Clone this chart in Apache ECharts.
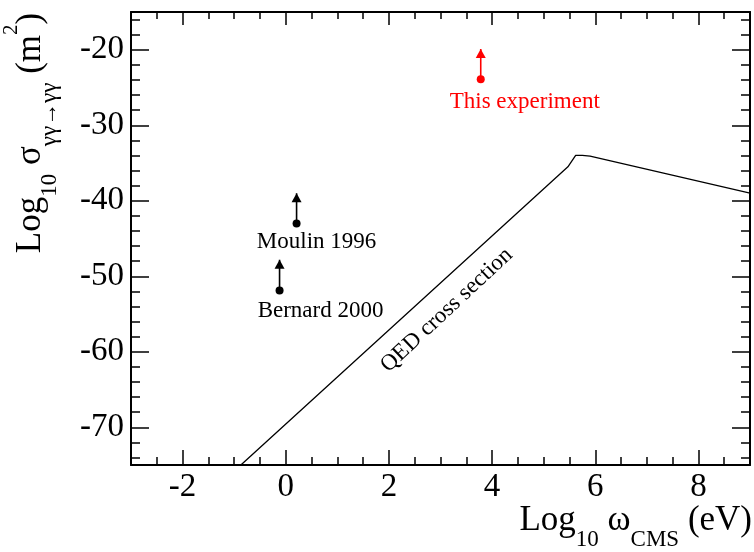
<!DOCTYPE html>
<html><head><meta charset="utf-8">
<script src="https://cdn.jsdelivr.net/npm/echarts@6/dist/echarts.min.js"></script>
<style>html,body{margin:0;padding:0;background:#fff}#c{width:754px;height:552px}</style>
</head><body><div id="c"></div><script>
// ---- data ----
const xMajorTicks = [-2, 0, 2, 4, 6, 8];
const xMinorTicks = [-3, -2.5, -1.5, -1, -0.5, 0.5, 1, 1.5, 2.5, 3, 3.5, 4.5, 5, 5.5, 6.5, 7, 7.5, 8.5, 9];
const yMajorTicks = [-70, -60, -50, -40, -30, -20];
const yMinorTicks = [-74, -72, -68, -66, -64, -62, -58, -56, -54, -52, -48, -46, -44, -42, -38, -36, -34, -32, -28, -26, -24, -22, -18, -16];
const qedX = [-0.87, 5.47, 5.62, 5.75, 5.9, 9];
const qedY = [-75, -35.5, -34.0, -34.0, -34.1, -39.0];
const expNames = ['This experiment', 'Moulin 1996', 'Bernard 2000'];
const expX = [3.78, 0.21, -0.12];
const expLow = [-23.9, -43.0, -51.9];
const expHigh = [-19.9, -39.0, -47.8];
const qedLabel = 'QED cross section';
const qedLabelAt = [3.12, -54.5];

// ---- styles ----
const FONT = 'Liberation Serif, Times New Roman, serif';
const expColors = ['#ff0000', '#000000', '#000000'];
const expLabelOffsets = [[44, 23], [20, 19], [41, 20]];

function xAx(pos, ticks, len, showLine, showLabel) {
  return {
    type: 'value', min: -3, max: 9, position: pos, gridIndex: 0,
    axisLine: {show: showLine, onZero: false, lineStyle: {color: '#000', width: 2}},
    axisTick: {show: true, inside: true, length: len, customValues: ticks, lineStyle: {color: '#000', width: 1.5}},
    axisLabel: {show: showLabel, customValues: ticks, margin: 6, color: '#000', fontFamily: FONT, fontSize: 33},
    splitLine: {show: false}
  };
}
function yAx(pos, ticks, len, showLine, showLabel) {
  return {
    type: 'value', min: -75, max: -15, position: pos, gridIndex: 0,
    axisLine: {show: showLine, onZero: false, lineStyle: {color: '#000', width: 2}},
    axisTick: {show: true, inside: true, length: len, customValues: ticks, lineStyle: {color: '#000', width: 1.5}},
    axisLabel: {show: showLabel, customValues: ticks, margin: 7, color: '#000', fontFamily: FONT, fontSize: 33},
    splitLine: {show: false}
  };
}

const series = [{
  type: 'line', xAxisIndex: 0, yAxisIndex: 0, symbol: 'none', silent: true,
  lineStyle: {color: '#000', width: 1.3},
  data: qedX.map((x, i) => [x, qedY[i]]),
  markPoint: {
    symbol: 'circle', symbolSize: 0, silent: true,
    data: [{coord: qedLabelAt, value: qedLabel}],
    label: {show: true, position: 'inside', rotate: 43, formatter: qedLabel, color: '#000', fontFamily: FONT, fontSize: 23}
  }
}];
expNames.forEach((name, i) => {
  series.push({
    type: 'line', xAxisIndex: 0, yAxisIndex: 0, silent: true,
    lineStyle: {color: expColors[i], width: 1.6},
    itemStyle: {color: expColors[i]},
    data: [
      {value: [expX[i], expLow[i]], symbol: 'circle', symbolSize: 8,
       label: {show: true, position: 'inside', offset: expLabelOffsets[i], formatter: name, color: expColors[i], fontFamily: FONT, fontSize: 23}},
      {value: [expX[i], expHigh[i]], symbol: 'triangle', symbolSize: [10, 9], symbolOffset: [0, 4.5], label: {show: false}}
    ]
  });
});

const chart = echarts.init(document.getElementById('c'), null, {renderer: 'canvas'});
chart.setOption({
  animation: false,
  backgroundColor: '#fff',
  grid: {left: 131, top: 12, width: 619, height: 453, containLabel: false},
  xAxis: [
    xAx('bottom', xMajorTicks, 15, true, true),
    xAx('bottom', xMinorTicks, 8, false, false),
    xAx('top', xMajorTicks, 13, true, false),
    xAx('top', xMinorTicks, 7, false, false)
  ],
  yAxis: [
    yAx('left', yMajorTicks, 18, true, true),
    yAx('left', yMinorTicks, 9, false, false),
    yAx('right', yMajorTicks, 18, true, false),
    yAx('right', yMinorTicks, 9, false, false)
  ],
  series: series,
  graphic: [
    {
      type: 'text', x: 752, y: 521,
      style: {
        text: '{a|Log}{s|10}{a| ω}{c|CMS}{a| (eV)}',
        align: 'right', verticalAlign: 'middle', fill: '#000',
        rich: {
          a: {fontFamily: FONT, fontSize: 35, lineHeight: 60, verticalAlign: 'middle', fill: '#000'},
          s: {fontFamily: FONT, fontSize: 23, lineHeight: 6, verticalAlign: 'bottom', fill: '#000'},
          c: {fontFamily: FONT, fontSize: 23, lineHeight: 28, verticalAlign: 'bottom', fill: '#000'}
        }
      }
    },
    {
      type: 'text', x: 31, y: 133, rotation: Math.PI / 2,
      style: {
        text: '{a|Log}{s|10}{a| σ}{c|γγ→γγ}{a| (m}{p|2}{a|)}',
        align: 'center', verticalAlign: 'middle', fill: '#000',
        rich: {
          a: {fontFamily: FONT, fontSize: 35, lineHeight: 60, verticalAlign: 'middle', fill: '#000'},
          s: {fontFamily: FONT, fontSize: 23, lineHeight: 8, verticalAlign: 'bottom', fill: '#000'},
          c: {fontFamily: FONT, fontSize: 23, lineHeight: 14, verticalAlign: 'bottom', fill: '#000'},
          p: {fontFamily: FONT, fontSize: 21, lineHeight: 30, verticalAlign: 'top', fill: '#000'}
        }
      }
    }
  ]
});
</script></body></html>
